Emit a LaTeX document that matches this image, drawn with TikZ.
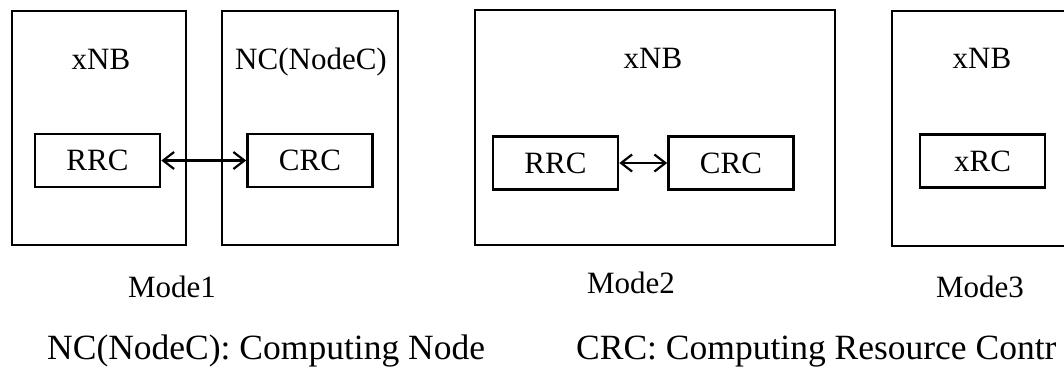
\documentclass[tikz,border=0pt]{standalone}
\usepackage{fontspec}
\setmainfont{Liberation Serif}
\usetikzlibrary{arrows.meta}

\newcommand{\boxfont}{\fontsize{31}{36}\selectfont}
\newcommand{\notefont}{\fontsize{35.5}{40}\selectfont}

\tikzset{
  outerbox/.style={draw, line width=2.7pt, rectangle, inner sep=0pt},
  innerbox/.style={draw, line width=2.6pt, rectangle, inner sep=0pt,
                   minimum width=125pt, minimum height=53pt, font=\boxfont},
  title/.style={anchor=base, inner sep=0pt, font=\boxfont},
  caption/.style={anchor=base, inner sep=0pt, font=\boxfont},
  note/.style={anchor=base west, inner sep=0pt, font=\notefont},
  biarrow/.style={line width=2.2pt, {Straight Barb[length=11pt,width=17pt]}-{Straight Barb[length=11pt,width=17pt]}}
}

\begin{document}
\begin{tikzpicture}[x=1pt,y=-1pt]
\useasboundingbox (0,0) rectangle (1064,370);
\clip (0,0) rectangle (1064,370);

% Mode 1: base station and separate computing node
\node[outerbox, minimum width=174pt, minimum height=234pt] (m1nb) at (99,128) {};
\node[outerbox, minimum width=176pt, minimum height=234pt] (m1nc) at (310,128) {};
\node[title] (m1nbt) at (101,69) {xNB};
\node[title] (m1nct) at (311,69) {NC(NodeC)};
\node[innerbox] (m1rrc) at (97.5,160.5) {RRC};
\node[innerbox] (m1crc) at (310,160.5) {CRC};
\draw[biarrow] (m1rrc.east) -- (m1crc.west);
\node[caption] (m1cap) at (172,297) {Mode1};

% Mode 2: both controllers inside the base station
\node[outerbox, minimum width=360pt, minimum height=235pt] (m2nb) at (655,127.5) {};
\node[title] (m2nbt) at (653,68) {xNB};
\node[innerbox] (m2rrc) at (555.5,163) {RRC};
\node[innerbox] (m2crc) at (731,163) {CRC};
\draw[biarrow] (m2rrc.east) -- (m2crc.west);
\node[caption] (m2cap) at (631,293) {Mode2};

% Mode 3: merged controller
\node[outerbox, minimum width=180pt, minimum height=235pt] (m3nb) at (982,128.5) {};
\node[title] (m3nbt) at (982,68) {xNB};
\node[innerbox] (m3xrc) at (982.5,161) {xRC};
\node[caption] (m3cap) at (980,297) {Mode3};

% Legend
\node[note] (leg1) at (47,359) {NC(NodeC): Computing Node};
\node[note] (leg2) at (576,359) {CRC: Computing Resource Contr};
\end{tikzpicture}
\end{document}
